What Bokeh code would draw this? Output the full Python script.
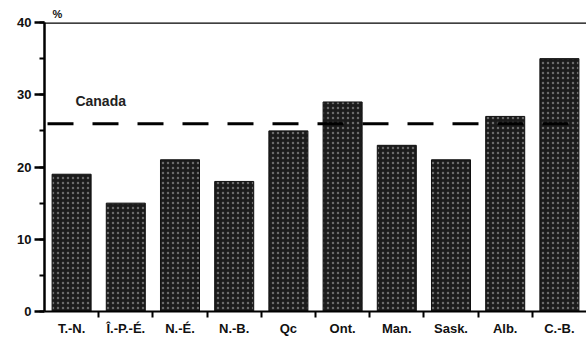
from bokeh.plotting import figure
from bokeh.models import Span, Label, SingleIntervalTicker, FixedTicker, Range1d, ColumnDataSource, LinearAxis
from bokeh.embed import file_html
from bokeh.resources import INLINE

provinces = ["T.-N.", "Î.-P.-É.", "N.-É.", "N.-B.", "Qc", "Ont.", "Man.", "Sask.", "Alb.", "C.-B."]
values = [19, 15, 21, 18, 25, 29, 23, 21, 27, 35]
canada = 26
y_max = 40
y_step = 10

xs = list(range(len(provinces)))
src = ColumnDataSource(data=dict(x=xs, top=values))

FONT = "Liberation Sans"
FS = "13px"

p = figure(width=586, height=341, output_backend="svg", toolbar_location=None,
           x_range=Range1d(-0.5, len(provinces) - 0.5), y_range=Range1d(0, y_max),
           min_border_left=44, min_border_right=0, min_border_top=22, min_border_bottom=30)
p.outline_line_color = None
p.xgrid.visible = False
p.ygrid.visible = False
p.background_fill_color = "white"
p.border_fill_color = "white"

p.title.text = "%"
p.title.align = "left"
p.title.offset = 8
p.title.standoff = 6
p.title.text_font = FONT
p.title.text_font_size = "11px"
p.title.text_font_style = "bold"
p.title.text_color = "#111111"

p.vbar(x="x", top="top", width=0.72, bottom=0, source=src,
       fill_color="#1b1b1b", line_color="#111111", line_width=1,
       hatch_pattern="dot", hatch_color="#6a6a6a", hatch_scale=5, hatch_weight=1.5)

p.add_layout(Span(location=canada, dimension="width", line_color="black",
                  line_width=3, line_dash="26 19", line_dash_offset=42))
p.add_layout(Span(location=y_max, dimension="width", line_color="black", line_width=2.5))

p.add_layout(Label(x=0.07, y=29.2, text="Canada", text_font=FONT, text_font_size="14px",
                   text_font_style="bold", text_baseline="middle", text_color="#222222"))

# y axis
ya = p.yaxis[0]
ya.ticker = SingleIntervalTicker(interval=y_step, num_minor_ticks=2)
ya.axis_line_width = 2.5
ya.axis_line_color = "black"
ya.major_tick_out = 10
ya.major_tick_in = 0
ya.major_tick_line_width = 2.5
ya.minor_tick_out = 5
ya.minor_tick_in = 0
ya.minor_tick_line_width = 2
ya.minor_tick_line_color = "black"
ya.major_label_standoff = 3
ya.major_label_text_font = FONT
ya.major_label_text_font_size = FS
ya.major_label_text_font_style = "bold"
ya.major_label_text_color = "#111111"

# x axis 1: axis line and ticks between categories, no labels
xa = p.xaxis[0]
xa.ticker = FixedTicker(ticks=[i + 0.5 for i in xs[:-1]])
xa.major_label_overrides = {i + 0.5: "" for i in xs[:-1]}
xa.major_label_text_font_size = "1px"
xa.major_label_standoff = 0
xa.axis_line_width = 2
xa.axis_line_color = "black"
xa.major_tick_out = 6
xa.major_tick_in = 0
xa.major_tick_line_width = 2
xa.minor_tick_line_color = None

# x axis 2: category labels
xl = LinearAxis(ticker=FixedTicker(ticks=xs))
xl.major_label_overrides = {i: name for i, name in enumerate(provinces)}
xl.axis_line_color = None
xl.major_tick_line_color = None
xl.minor_tick_line_color = None
xl.major_tick_out = 0
xl.major_tick_in = 0
xl.major_label_standoff = 3
xl.major_label_text_font = FONT
xl.major_label_text_font_size = FS
xl.major_label_text_font_style = "bold"
xl.major_label_text_color = "#111111"
p.add_layout(xl, "below")

open("out.html", "w").write(file_html(p, INLINE))
